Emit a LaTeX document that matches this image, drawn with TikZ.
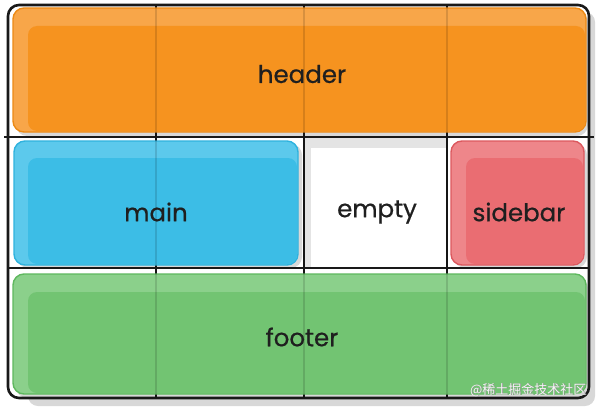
\documentclass[tikz,border=0pt]{standalone}
\usepackage{fontspec}
\setmainfont{Poppins}[FakeBold=0.6]
\newfontfamily\cjk{Noto Sans CJK SC}
\definecolor{orangeC}{HTML}{F6931F}
\definecolor{orangeL}{HTML}{F8A649}
\definecolor{orangeD}{HTML}{EC8A15}
\definecolor{blueC}{HTML}{3CBDE6}
\definecolor{blueL}{HTML}{5CC9EC}
\definecolor{blueD}{HTML}{2EB2DE}
\definecolor{redC}{HTML}{EA6D72}
\definecolor{redL}{HTML}{EE868A}
\definecolor{redD}{HTML}{DC585E}
\definecolor{greenC}{HTML}{72C472}
\definecolor{greenL}{HTML}{8BD08B}
\definecolor{greenD}{HTML}{5EB85E}
\definecolor{shadowC}{HTML}{D8D8D8}
\tikzset{
  gridline/.style={draw=black!90, line width=2.6pt},
  gridover/.style={draw=black, line width=2.6pt, draw opacity=0.13},
  shadowbox/.style={fill=shadowC, rounded corners=11pt},
  itembox/.style={rounded corners=11pt, line width=1.4pt},
  itemtext/.style={font=\fontsize{24.5}{28}\selectfont, text=black!88},
}
\begin{document}
\begin{tikzpicture}[x=1pt,y=-1pt]
\useasboundingbox (0,0) rectangle (596,412);
\fill[white] (0,0) rectangle (596,412);
% outer shadow
\fill[shadowC, rounded corners=10pt] (28,12) rectangle (595,406);
\fill[white, rounded corners=11pt] (8,5) rectangle (589,398);
% item shadows
\fill[shadowbox] (16,11) rectangle (588,136);
\fill[shadowbox] (17,144) rectangle (302,268);
\fill[shadowbox] (454,144) rectangle (587,268);
\fill[shadowbox] (16,277) rectangle (588,398);
% empty cell inset shadow
\fill[shadowC!70!white] (305,138) rectangle (446,148);
\fill[shadowC!70!white] (305,138) rectangle (311,267);
\fill[white, rounded corners=3pt] (311,148) rectangle (446,267);
% grid lines
\coordinate (hl1) at (4,137);
\coordinate (hr1) at (594,137);
\coordinate (hl2) at (8,268);
\coordinate (hr2) at (589,268);
\coordinate (v1t) at (156,5);
\coordinate (v1b) at (156,398);
\coordinate (v2t) at (304,5);
\coordinate (v2b) at (304,398);
\coordinate (v3t) at (447,5);
\coordinate (v3b) at (447,398);
\draw[gridline] (hl1) -- (hr1);
\draw[gridline] (hl2) -- (hr2);
\draw[gridline] (v1t) -- (v1b);
\draw[gridline] (v2t) -- (v2b);
\draw[gridline] (v3t) -- (v3b);
% outer frame
\draw[draw=black!90, line width=2.6pt, rounded corners=11pt] (8,5) rectangle (589,398);
% items
\path[itembox, fill=orangeL, draw=orangeD] (13,8) rectangle (586,132);
\path[fill=orangeC, rounded corners=9pt] (28,26) rectangle (585,131);

\path[itembox, fill=blueL, draw=blueD] (14,141) rectangle (298,265);
\path[fill=blueC, rounded corners=9pt] (28,158) rectangle (297,264);

\path[itembox, fill=redL, draw=redD] (451,141) rectangle (584,265);
\path[fill=redC, rounded corners=9pt] (466,158) rectangle (583,264);

\path[itembox, fill=greenL, draw=greenD] (13,274) rectangle (586,394);
\path[fill=greenC, rounded corners=9pt] (28,292) rectangle (585,393);

% grid lines showing through the items
\draw[gridover] (v1t) -- (v1b);
\draw[gridover] (v2t) -- (v2b);
\draw[gridover] (v3t) -- (v3b);

\node[itemtext] (header) at (302,74) {header};
\node[itemtext] (main) at (156,212) {main};
\node[itemtext] (empty) at (377,212) {empty};
\node[itemtext] (sidebar) at (519,212) {sidebar};
\node[itemtext] (footer) at (302,337) {footer};

% watermark
\node[font=\cjk\fontsize{13}{14}\selectfont, text=black!45, anchor=east] at (590.6,390.6) {@稀土掘金技术社区};
\node[font=\cjk\fontsize{13}{14}\selectfont, text=white!92!gray, anchor=east] (wm) at (590,390) {@稀土掘金技术社区};
\end{tikzpicture}
\end{document}
